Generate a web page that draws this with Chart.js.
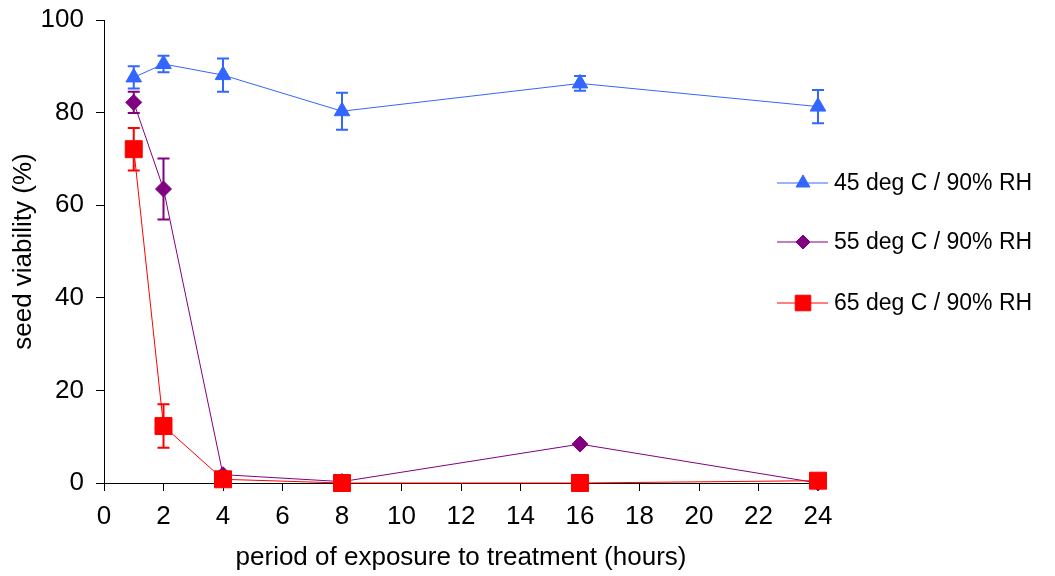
<!DOCTYPE html>
<html>
<head>
<meta charset="utf-8">
<script src="https://cdn.jsdelivr.net/npm/chart.js@4.4.1/dist/chart.umd.min.js"></script>
<style>
  html, body { margin: 0; padding: 0; background: #fff; }
  #wrap { width: 1055px; height: 576px; }
</style>
</head>
<body>
<div id="wrap"><canvas id="viability"></canvas></div>
<script>
// hours of exposure
var hours = [1, 2, 4, 8, 16, 24];
var xTicks = [0, 2, 4, 6, 8, 10, 12, 14, 16, 18, 20, 22, 24];
var yTicks = [0, 20, 40, 60, 80, 100];

// seed viability (%) and error bars
var viability45 = [87.6, 90.5, 88.1, 80.3, 86.3, 81.3];
var error45 = [2.4, 1.8, 3.6, 4.0, 1.6, 3.6];
var viability55 = [82.2, 63.5, 1.8, 0.3, 8.4, 0];
var error55 = [2.3, 6.6, 0, 0, 0, 0];
var viability65 = [72.1, 12.3, 0.8, 0, 0, 0.5];
var error65 = [4.6, 4.7, 0, 0, 0, 0];

var seriesNames = ['45 deg C / 90% RH', '55 deg C / 90% RH', '65 deg C / 90% RH'];
var FONT = '"Liberation Sans", Arial, sans-serif';

function toPoints(values) {
  return hours.map((h, i) => ({ x: h, y: values[i] }));
}

var errorBars = {
  id: 'errorBars',
  beforeDatasetsDraw(chart) {
    var ctx = chart.ctx;
    var xs = chart.scales.x, ys = chart.scales.y;
    chart.data.datasets.forEach(ds => {
      if (!ds.errors) return;
      ctx.save();
      ctx.strokeStyle = ds.borderColor;
      ctx.lineWidth = 2;
      ds.data.forEach((p, i) => {
        var e = ds.errors[i];
        if (!e) return;
        var px = xs.getPixelForValue(p.x);
        var top = ys.getPixelForValue(p.y + e);
        var bot = ys.getPixelForValue(p.y - e);
        ctx.beginPath();
        ctx.moveTo(px, top); ctx.lineTo(px, bot);
        ctx.moveTo(px - 6, top); ctx.lineTo(px + 6, top);
        ctx.moveTo(px - 6, bot); ctx.lineTo(px + 6, bot);
        ctx.stroke();
      });
      ctx.restore();
    });
  }
};

// legend with line through the marker, like the original
var sideLegend = {
  id: 'sideLegend',
  afterDraw(chart) {
    var ctx = chart.ctx;
    var left = chart.chartArea.right - 41;
    var rows = [183, 242, 303];
    chart.data.datasets.forEach((ds, i) => {
      var y = rows[i];
      ctx.save();
      ctx.strokeStyle = ds.borderColor;
      ctx.lineWidth = 1;
      ctx.beginPath();
      ctx.moveTo(left, y); ctx.lineTo(left + 51, y);
      ctx.stroke();
      ctx.fillStyle = ds.pointBackgroundColor;
      Chart.helpers.drawPoint(ctx, {
        pointStyle: ds.pointStyle, radius: ds.legendRadius, rotation: 0, borderWidth: 1
      }, left + 26, y);
      ctx.fillStyle = '#000';
      ctx.font = '23px ' + FONT;
      ctx.textBaseline = 'middle';
      ctx.fillText(ds.label, left + 57, y + 1);
      ctx.restore();
    });
  }
};

var ctx = document.getElementById('viability').getContext('2d');
new Chart(ctx, {
  type: 'line',
  data: {
    datasets: [
      {
        label: seriesNames[0], data: toPoints(viability45), errors: error45,
        borderColor: '#3366FF', backgroundColor: '#3366FF', pointBackgroundColor: '#3366FF',
        pointStyle: 'triangle', pointRadius: 9, legendRadius: 8, borderWidth: 1, order: 3, clip: false
      },
      {
        label: seriesNames[1], data: toPoints(viability55), errors: error55,
        borderColor: '#800080', backgroundColor: '#800080', pointBackgroundColor: '#800080',
        pointStyle: 'rectRot', pointRadius: 8, legendRadius: 7, borderWidth: 1, order: 2, clip: false
      },
      {
        label: seriesNames[2], data: toPoints(viability65), errors: error65,
        borderColor: '#FF0000', backgroundColor: '#FF0000', pointBackgroundColor: '#FF0000',
        pointStyle: 'rect', pointRadius: 12, legendRadius: 11, borderWidth: 1, order: 1, clip: false
      }
    ]
  },
  options: {
    responsive: true,
    maintainAspectRatio: false,
    animation: false,
    layout: { padding: { left: 6, top: 20, right: 237, bottom: 1 } },
    plugins: { legend: { display: false }, tooltip: { enabled: false } },
    elements: { line: { tension: 0 }, point: { borderWidth: 1 } },
    scales: {
      x: {
        type: 'linear', min: 0, max: 24,
        afterBuildTicks(scale) { scale.ticks = xTicks.map(v => ({ value: v })); },
        afterFit(scale) { scale.height = 92; scale.paddingLeft = 0; scale.paddingRight = 0; },
        grid: { drawOnChartArea: false, drawTicks: true, tickLength: 8, color: '#000' },
        border: { color: '#000', width: 1 },
        ticks: { color: '#000', padding: 10, maxRotation: 0, font: { family: FONT, size: 26 } },
        title: { display: true, text: 'period of exposure to treatment (hours)', color: '#000', padding: 2,
                 font: { family: FONT, size: 26 } }
      },
      y: {
        min: 0, max: 100,
        afterBuildTicks(scale) { scale.ticks = yTicks.map(v => ({ value: v })); },
        afterFit(scale) { scale.width = 98; scale.paddingTop = 0; scale.paddingBottom = 0; },
        grid: { drawOnChartArea: false, drawTicks: true, tickLength: 8, color: '#000' },
        border: { color: '#000', width: 1 },
        ticks: { color: '#000', padding: 12, font: { family: FONT, size: 26 } },
        title: { display: true, text: 'seed viability (%)', color: '#000', padding: 2,
                 font: { family: FONT, size: 26 } }
      }
    }
  },
  plugins: [errorBars, sideLegend]
});
</script>
</body>
</html>
